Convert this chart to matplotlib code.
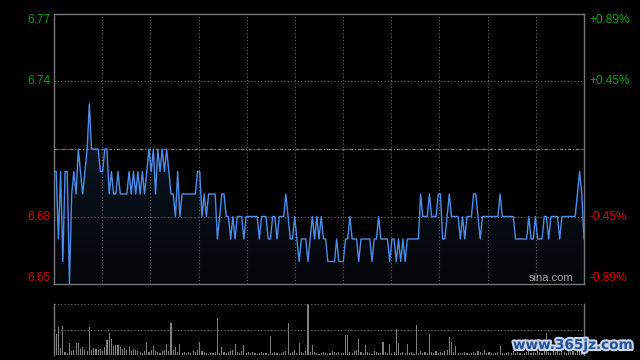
import matplotlib
matplotlib.use('Agg')
import matplotlib.pyplot as plt
import matplotlib.patheffects as pe
from matplotlib.colors import LinearSegmentedColormap
import numpy as np

# minute prices, 9:30 .. 15:00 (241 points)
prices = [
    6.70, 6.70, 6.67, 6.70, 6.66, 6.70, 6.70, 6.65, 6.69, 6.70,
    6.69, 6.71, 6.70, 6.69, 6.70, 6.71, 6.73, 6.71, 6.71, 6.71,
    6.71, 6.70, 6.70, 6.71, 6.71, 6.69, 6.70, 6.69, 6.69, 6.70,
    6.69, 6.69, 6.69, 6.69, 6.70, 6.69, 6.70, 6.69, 6.70, 6.69,
    6.70, 6.69, 6.70, 6.71, 6.70, 6.71, 6.69, 6.71, 6.70, 6.71,
    6.70, 6.71, 6.70, 6.69, 6.69, 6.68, 6.70, 6.68, 6.69, 6.69,
    6.69, 6.69, 6.69, 6.69, 6.69, 6.70, 6.70, 6.68, 6.69, 6.68,
    6.69, 6.69, 6.69, 6.69, 6.67, 6.68, 6.69, 6.69, 6.68, 6.68,
    6.67, 6.68, 6.67, 6.68, 6.68, 6.68, 6.67, 6.68, 6.68, 6.68,
    6.68, 6.68, 6.68, 6.67, 6.68, 6.68, 6.68, 6.67, 6.67, 6.68,
    6.68, 6.67, 6.68, 6.68, 6.68, 6.69, 6.68, 6.67, 6.67, 6.68,
    6.67, 6.66, 6.67, 6.67, 6.67, 6.66, 6.67, 6.68, 6.67, 6.68,
    6.67, 6.68, 6.67, 6.67, 6.66, 6.66, 6.66, 6.66, 6.67, 6.66,
    6.66, 6.66, 6.67, 6.67, 6.68, 6.67, 6.67, 6.67, 6.66, 6.67,
    6.67, 6.67, 6.67, 6.67, 6.66, 6.67, 6.67, 6.68, 6.67, 6.67,
    6.67, 6.67, 6.66, 6.67, 6.67, 6.66, 6.67, 6.66, 6.67, 6.66,
    6.67, 6.67, 6.67, 6.67, 6.67, 6.67, 6.69, 6.68, 6.68, 6.68,
    6.69, 6.68, 6.68, 6.68, 6.69, 6.69, 6.67, 6.67, 6.68, 6.69,
    6.68, 6.68, 6.68, 6.68, 6.67, 6.68, 6.67, 6.68, 6.68, 6.68,
    6.69, 6.69, 6.68, 6.67, 6.68, 6.68, 6.68, 6.68, 6.68, 6.68,
    6.68, 6.68, 6.69, 6.68, 6.68, 6.68, 6.68, 6.68, 6.68, 6.67,
    6.67, 6.67, 6.67, 6.67, 6.67, 6.68, 6.67, 6.67, 6.68, 6.67,
    6.67, 6.67, 6.68, 6.68, 6.67, 6.68, 6.68, 6.68, 6.68, 6.67,
    6.68, 6.68, 6.68, 6.68, 6.68, 6.68, 6.68, 6.69, 6.70, 6.69,
    6.67,
]

# minute volume (relative bar height)
volumes = [
    7, 21, 28, 7, 29, 3, 2, 12, 4, 5,
    12, 12, 6, 8, 5, 4, 28, 5, 7, 6,
    5, 6, 4, 8, 15, 22, 16, 9, 10, 10,
    8, 6, 7, 5, 8, 4, 6, 5, 4, 3,
    2, 4, 13, 3, 5, 9, 4, 3, 2, 4,
    5, 11, 4, 32, 5, 8, 3, 11, 2, 3,
    2, 3, 2, 4, 3, 5, 13, 4, 3, 2,
    1, 2, 2, 3, 37, 2, 8, 3, 2, 3,
    4, 5, 11, 3, 2, 4, 10, 2, 3, 2,
    3, 2, 1, 2, 3, 2, 2, 1, 19, 2,
    3, 2, 1, 2, 3, 4, 32, 2, 3, 5,
    2, 12, 3, 2, 4, 51, 3, 10, 3, 2,
    1, 2, 3, 2, 1, 2, 4, 3, 2, 3,
    2, 2, 20, 20, 3, 2, 4, 5, 16, 3,
    2, 10, 3, 2, 1, 4, 3, 2, 2, 13,
    3, 2, 11, 2, 3, 26, 12, 2, 3, 2,
    11, 2, 3, 1, 30, 2, 4, 2, 3, 2,
    21, 3, 2, 4, 2, 3, 2, 4, 5, 18,
    13, 3, 9, 2, 1, 2, 3, 2, 1, 2,
    3, 2, 4, 3, 2, 5, 2, 3, 2, 1,
    2, 3, 9, 2, 1, 2, 3, 2, 4, 2,
    3, 2, 1, 2, 3, 4, 2, 3, 2, 5,
    3, 2, 4, 22, 3, 2, 4, 3, 5, 2,
    4, 3, 2, 5, 3, 4, 2, 6, 5, 3,
    2,
]

prev_close = 6.71
price_ticks = [6.77, 6.74, 6.68, 6.65]
price_labels = ['6.77', '6.74', '6.68', '6.65']
pct_labels = ['+0.89%', '+0.45%', '-0.45%', '-0.89%']

GREEN = '#00a000'
RED = '#d40000'
GRID = '#6a6a6a'

fig = plt.figure(figsize=(6.4, 3.6), dpi=100, facecolor='black')
ax = fig.add_axes([54/640, 1-284/360, 530/640, 270/360])
ax.set_facecolor('black')
x = np.arange(len(prices))

# area under line with a dark gradient
fill = ax.fill_between(x, prices, 6.65, color='none', lw=0)
grad = np.linspace(0, 1, 256).reshape(-1, 1)
cmap = LinearSegmentedColormap.from_list('g', ['#030508', '#0f1a2b'])
im = ax.imshow(grad, cmap=cmap, extent=[0, 240, 6.65, 6.73], origin='lower',
               aspect='auto', zorder=1)
im.set_clip_path(fill.get_paths()[0], transform=ax.transData)

ax.plot(x, prices, color='#4d8ce8', lw=1.0, zorder=3)
ax.set_xlim(0, 240)
ax.set_ylim(6.65, 6.77)

for v in [6.74, 6.68]:
    ax.axhline(v, color=GRID, ls=(0, (1, 2)), lw=0.8, zorder=2)
ax.axhline(prev_close, color='#808080', ls=(0, (3, 1.5, 1, 1.5)), lw=0.8, zorder=2)
for k in range(1, 11):
    ax.axvline(240 * k / 11, color=GRID, ls=(0, (1, 2)), lw=0.8, zorder=2)

ax.set_xticks([]); ax.set_yticks([])
for s in ax.spines.values():
    s.set_color('#777777'); s.set_linewidth(1)

ytr = ax.get_yaxis_transform()
for v, lab, pct in zip(price_ticks, price_labels, pct_labels):
    col = GREEN if v > prev_close else RED
    va = 'top' if v == 6.77 else ('bottom' if v == 6.65 else 'center')
    ax.text(-0.006, v, lab, transform=ytr, ha='right', va=va, color=col,
            fontsize=8.6, family='Liberation Sans')
    ax.text(1.011, v, pct, transform=ytr, ha='left', va=va, color=col,
            fontsize=8.6, family='Liberation Sans')

ax.text(0.979, 0.005, 'sina.com', transform=ax.transAxes, ha='right', va='bottom',
        color='#aaaaaa', fontsize=8, family='Liberation Sans', zorder=4)

# volume panel
vax = fig.add_axes([54/640, 1-355/360, 530/640, 51/360])
vax.set_facecolor('black')
vax.bar(x, volumes, width=0.5, color='#808080', lw=0)
vax.set_xlim(0, 240)
vax.set_ylim(0, 51)
vax.axhline(51, color=GRID, ls=(0, (1, 2)), lw=0.8)
vax.axhline(25, color=GRID, ls=(0, (1, 2)), lw=0.8)
vax.set_xticks([]); vax.set_yticks([])
vax.spines['top'].set_visible(False)
vax.spines['bottom'].set_visible(False)
for s in ['left', 'right']:
    vax.spines[s].set_color('#777777'); vax.spines[s].set_linewidth(1)

fig.text(573/640, 1-345/360, 'www.365jz.com', ha='center', va='center',
         color='#1f4f9a', fontsize=9.8, fontweight='bold',
         path_effects=[pe.withStroke(linewidth=3, foreground='#c8d4e8')])

fig.savefig('out.png', dpi=100, facecolor='black')
